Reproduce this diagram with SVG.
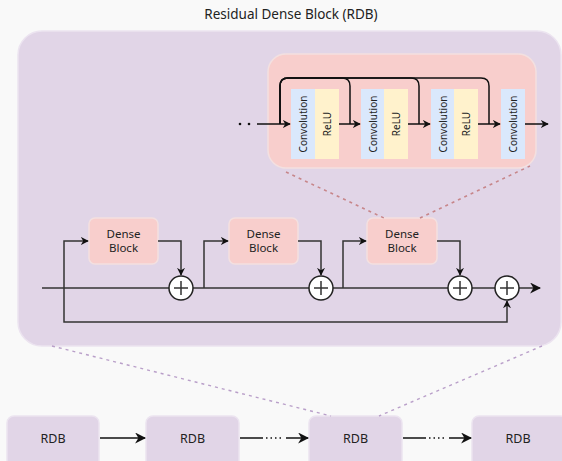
<svg xmlns="http://www.w3.org/2000/svg" width="562" height="461" viewBox="0 0 562 461">
<defs>
<marker id="ah" viewBox="0 0 10 10" refX="9" refY="5" markerWidth="8" markerHeight="8" markerUnits="userSpaceOnUse" orient="auto">
<path d="M0,0 L10,5 L0,10 L3,5 z" fill="#111"/>
</marker>
<marker id="ahb" viewBox="0 0 10 10" refX="9" refY="5" markerWidth="11" markerHeight="11" markerUnits="userSpaceOnUse" orient="auto">
<path d="M0,0 L10,5 L0,10 L3,5 z" fill="#111"/>
</marker>
</defs>
<style>
text{font-family:"Noto Sans","Open Sans",sans-serif;fill:#222;}
.t{font-size:13.5px;text-anchor:middle;}
.lbl{font-size:11.5px;text-anchor:middle;}
.rdb{font-size:12.5px;text-anchor:middle;}
.rot{font-size:10px;text-anchor:middle;dominant-baseline:central;}
.pink{fill:#f8cecc;stroke:#f3e0e0;stroke-width:1.5;}
.purple{fill:#e1d5e7;stroke:#ece4f0;stroke-width:1.5;}
.conv{fill:#dae8fc;}
.relu{fill:#fff2cc;}
.ln{fill:none;stroke:#333;stroke-width:1.5;}
.lnk{fill:none;stroke:#111;stroke-width:1.5;}
.dashp{fill:none;stroke:#c7868a;stroke-width:1.6;stroke-dasharray:3,4;}
.dashv{fill:none;stroke:#b99fc9;stroke-width:1.4;stroke-dasharray:3,4;}
.circ{fill:#fff;stroke:#222;stroke-width:1.5;}
</style>
<rect x="0" y="0" width="562" height="461" fill="#f9f9f9"/>
<text class="t" x="291" y="19">Residual Dense Block (RDB)</text>

<g id="rdb-panel">
<rect class="purple" x="18" y="31" width="543" height="315" rx="24"/>
</g>

<g id="dense-internal">
<rect class="pink" x="268" y="54" width="268" height="114" rx="18"/>
<rect class="conv" x="291" y="89" width="24" height="70"/>
<rect class="relu" x="315" y="89" width="24" height="70"/>
<rect class="conv" x="361" y="89" width="23" height="70"/>
<rect class="relu" x="384" y="89" width="24" height="70"/>
<rect class="conv" x="431" y="89" width="23" height="70"/>
<rect class="relu" x="454" y="89" width="24" height="70"/>
<rect class="conv" x="501" y="89" width="24" height="70"/>
<text class="rot" transform="translate(303,124) rotate(-90)">Convolution</text>
<text class="rot" transform="translate(327,124) rotate(-90)">ReLU</text>
<text class="rot" transform="translate(372.5,124) rotate(-90)">Convolution</text>
<text class="rot" transform="translate(396,124) rotate(-90)">ReLU</text>
<text class="rot" transform="translate(442.5,124) rotate(-90)">Convolution</text>
<text class="rot" transform="translate(466,124) rotate(-90)">ReLU</text>
<text class="rot" transform="translate(513,124) rotate(-90)">Convolution</text>
</g>

<g id="dense-block-1"><rect class="pink" x="89" y="218" width="69" height="46" rx="6"/><text class="lbl" x="123.5" y="238">Dense</text><text class="lbl" x="123.5" y="252">Block</text></g>
<g id="dense-block-2"><rect class="pink" x="229" y="218" width="69" height="46" rx="6"/><text class="lbl" x="263.5" y="238">Dense</text><text class="lbl" x="263.5" y="252">Block</text></g>
<g id="dense-block-3"><rect class="pink" x="367" y="218" width="70" height="46" rx="6"/><text class="lbl" x="402" y="238">Dense</text><text class="lbl" x="402" y="252">Block</text></g>

<g id="rdb-1"><rect class="purple" x="7" y="416" width="92" height="52" rx="7"/><text class="rdb" x="53" y="443">RDB</text></g>
<g id="rdb-2"><rect class="purple" x="146" y="416" width="93" height="52" rx="7"/><text class="rdb" x="192.5" y="443">RDB</text></g>
<g id="rdb-3"><rect class="purple" x="309" y="416" width="93" height="52" rx="7"/><text class="rdb" x="355.5" y="443">RDB</text></g>
<g id="rdb-4"><rect class="purple" x="472" y="416" width="95" height="52" rx="7"/><text class="rdb" x="518" y="443">RDB</text></g>

<g id="connectors">
<circle cx="240" cy="124" r="1.3" fill="#111"/>
<circle cx="249" cy="124" r="1.3" fill="#111"/>
<path class="lnk" d="M257,124 H290" marker-end="url(#ah)"/>
<path class="lnk" d="M339,124 H360" marker-end="url(#ah)"/>
<path class="lnk" d="M408,124 H430" marker-end="url(#ah)"/>
<path class="lnk" d="M478,124 H500" marker-end="url(#ah)"/>
<path class="lnk" d="M525,124 H548" marker-end="url(#ah)"/>
<path class="lnk" d="M280,124 V86 Q280,78 288,78 H342 Q350,78 350,86 V124"/>
<path class="lnk" d="M280,124 V86 Q280,78 288,78 H411 Q419,78 419,86 V124"/>
<path class="lnk" d="M280,124 V86 Q280,78 288,78 H481 Q489,78 489,86 V124"/>

<path class="dashp" d="M286,172 L384,218"/>
<path class="dashp" d="M420,218 L530,166"/>
<path class="dashv" d="M52,346 L331,416"/>
<path class="dashv" d="M542,346 L379,416"/>

<path class="ln" d="M42,288 H495"/>
<path class="ln" d="M519,288 H540" marker-end="url(#ahb)"/>
<path class="ln" d="M64,288 V241 H88" marker-end="url(#ah)"/>
<path class="ln" d="M64,288 V322 H507 V301" marker-end="url(#ah)"/>
<path class="ln" d="M158,241 H181 V275" marker-end="url(#ah)"/>
<path class="ln" d="M204,288 V241 H228" marker-end="url(#ah)"/>
<path class="ln" d="M298,241 H321 V275" marker-end="url(#ah)"/>
<path class="ln" d="M343,288 V241 H366" marker-end="url(#ah)"/>
<path class="ln" d="M437,241 H460 V275" marker-end="url(#ah)"/>

<path class="lnk" d="M100,438 H145" marker-end="url(#ahb)"/>
<path class="lnk" d="M240,438 H263"/>
<path class="lnk" d="M266,438 H284" stroke-dasharray="1.5,3"/>
<path class="lnk" d="M286,438 H308" marker-end="url(#ahb)"/>
<path class="lnk" d="M403,438 H426"/>
<path class="lnk" d="M429,438 H447" stroke-dasharray="1.5,3"/>
<path class="lnk" d="M449,438 H471" marker-end="url(#ahb)"/>
</g>

<g id="add-1"><circle class="circ" cx="181" cy="288" r="12"/><path class="ln" d="M174,288 H188 M181,281 V295"/></g>
<g id="add-2"><circle class="circ" cx="321" cy="288" r="12"/><path class="ln" d="M314,288 H328 M321,281 V295"/></g>
<g id="add-3"><circle class="circ" cx="460" cy="288" r="12"/><path class="ln" d="M453,288 H467 M460,281 V295"/></g>
<g id="add-4"><circle class="circ" cx="507" cy="288" r="12"/><path class="ln" d="M500,288 H514 M507,281 V295"/></g>
</svg>
